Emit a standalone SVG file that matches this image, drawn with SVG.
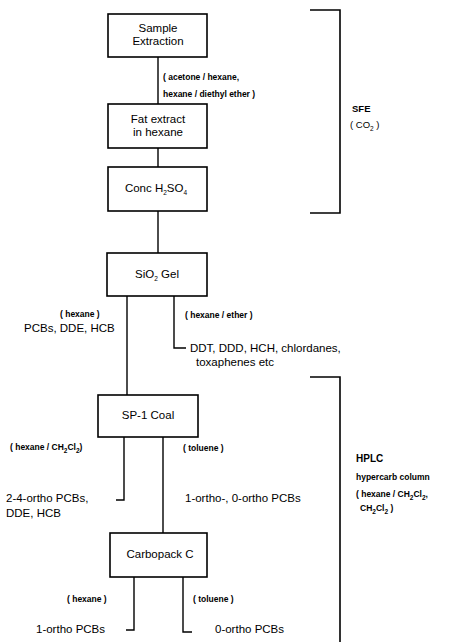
<svg xmlns="http://www.w3.org/2000/svg" width="459" height="642" viewBox="0 0 459 642">
<style>
.box{fill:#fff;stroke:#000;stroke-width:1.6}
.ln{fill:none;stroke:#000;stroke-width:1.4}
.br{fill:none;stroke:#000;stroke-width:1.6}
text{font-family:"Liberation Sans",Arial,sans-serif;fill:#000}
.bl{font-size:11.5px;text-anchor:middle}
.lab{font-size:11.5px}
.sm{font-size:8.5px;font-weight:bold}
.sub{font-size:6.5px}
</style>
<rect width="459" height="642" fill="#fff"/>
<g id="connectors">
<path class="ln" d="M158 57V104"/>
<path class="ln" d="M158 148V167"/>
<path class="ln" d="M158 211V253"/>
<path class="ln" d="M127 296V395"/>
<path class="ln" d="M174 296V348H186"/>
<path class="ln" d="M124 437V500H116"/>
<path class="ln" d="M163 437V533"/>
<path class="ln" d="M134 577V630H126"/>
<path class="ln" d="M183 577V632H192"/>
</g>
<g id="sfe">
<path class="br" d="M310 10H340V213H310"/>
<text x="352" y="112" style="font-size:9.5px;font-weight:bold">SFE</text>
<text x="350" y="128" style="font-size:9.5px">( CO<tspan class="sub" dy="3">2</tspan><tspan dy="-3"> )</tspan></text>
</g>
<g id="hplc">
<path class="br" d="M310 377H340V642"/>
<text x="356" y="462" style="font-size:10px;font-weight:bold">HPLC</text>
<text x="356" y="480" class="sm">hypercarb column</text>
<text x="356" y="497" class="sm">( hexane / CH<tspan class="sub" dy="3">2</tspan><tspan dy="-3">Cl</tspan><tspan class="sub" dy="3">2</tspan><tspan dy="-3">,</tspan></text>
<text x="360" y="511" class="sm">CH<tspan class="sub" dy="3">2</tspan><tspan dy="-3">Cl</tspan><tspan class="sub" dy="3">2</tspan><tspan dy="-3"> )</tspan></text>
</g>
<g id="n1">
<rect class="box" x="108" y="14" width="99" height="43"/>
<text class="bl" x="158" y="32">Sample</text>
<text class="bl" x="158" y="45">Extraction</text>
</g>
<g id="e1">
<text class="sm" x="163" y="80">( acetone / hexane,</text>
<text class="sm" x="163" y="97">hexane / diethyl ether )</text>
</g>
<g id="n2">
<rect class="box" x="108" y="104" width="99" height="44"/>
<text class="bl" x="158" y="123">Fat extract</text>
<text class="bl" x="158" y="136">in hexane</text>
</g>
<g id="n3">
<rect class="box" x="108" y="167" width="99" height="44"/>
<text class="bl" x="156" y="192">Conc H<tspan class="sub" dy="3">2</tspan><tspan dy="-3">SO</tspan><tspan class="sub" dy="3">4</tspan></text>
</g>
<g id="n4">
<rect class="box" x="107" y="253" width="100" height="43"/>
<text class="bl" x="157" y="278">SiO<tspan class="sub" dy="3">2</tspan><tspan dy="-3">  Gel</tspan></text>
</g>
<g id="e2">
<text class="sm" x="60" y="317">( hexane )</text>
<text class="lab" x="24" y="332">PCBs, DDE, HCB</text>
<text class="sm" x="185" y="318">( hexane / ether )</text>
<text class="lab" x="190" y="352">DDT, DDD, HCH, chlordanes,</text>
<text class="lab" x="196" y="366">toxaphenes etc</text>
</g>
<g id="n5">
<rect class="box" x="98" y="395" width="100" height="42"/>
<text class="bl" x="148" y="419">SP-1 Coal</text>
</g>
<g id="e3">
<text class="sm" x="10" y="450">( hexane / CH<tspan class="sub" dy="3">2</tspan><tspan dy="-3">Cl</tspan><tspan class="sub" dy="3">2</tspan><tspan dy="-3">)</tspan></text>
<text class="sm" x="183" y="451">( toluene )</text>
<text class="lab" x="6" y="502">2-4-ortho PCBs,</text>
<text class="lab" x="6" y="517">DDE, HCB</text>
<text class="lab" x="185" y="502">1-ortho-, 0-ortho PCBs</text>
</g>
<g id="n6">
<rect class="box" x="110" y="533" width="97" height="44"/>
<text class="bl" x="160" y="558">Carbopack C</text>
</g>
<g id="e4">
<text class="sm" x="67" y="602">( hexane )</text>
<text class="sm" x="193" y="602">( toluene )</text>
<text class="lab" x="36" y="633">1-ortho PCBs</text>
<text class="lab" x="215" y="633">0-ortho PCBs</text>
</g>
</svg>
